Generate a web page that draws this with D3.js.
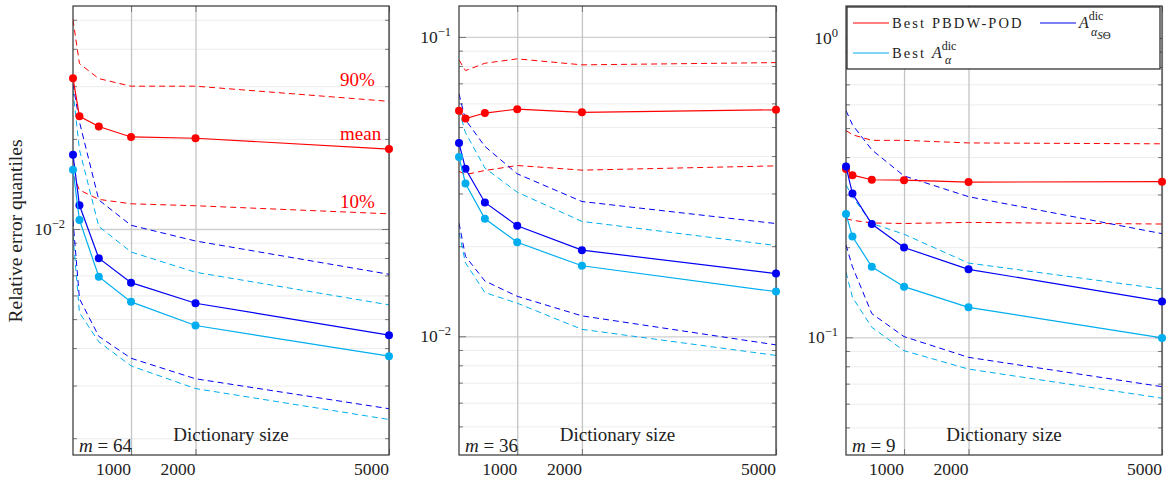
<!DOCTYPE html>
<meta charset="utf-8">
<style>
body { margin: 0; background: #fff; }
text { font-family: "Liberation Serif", "DejaVu Serif", serif; fill: #222; }
.grid-minor line { stroke: #ececec; stroke-width: 1; }
.grid-major line { stroke: #cfcfcf; stroke-width: 1.3; }
.grid-x line { stroke: #c4c4c4; stroke-width: 1.3; }
.ticks line { stroke: #777; stroke-width: 1; }
path.domain { display: none; }
.tick text { display: none; }
</style>
<body>
<div id="chart"></div>
<script src="https://d3js.org/d3.v7.min.js"></script>
<script>
// dictionary sizes on the x axis
var dictSize = [100, 200, 500, 1000, 2000, 5000];
var xTicks = [1000, 2000, 5000];
var mValues = [64, 36, 9];

// m = 64
var pbdw64Mean = [0.0319, 0.0238, 0.0220, 0.0203, 0.0201, 0.0185];
var pbdw64Q90  = [0.0500, 0.0357, 0.0318, 0.0300, 0.0300, 0.0267];
var pbdw64Q10  = [0.0152, 0.0135, 0.01256, 0.01214, 0.01196, 0.01124];
var sdic64Mean = [0.0177, 0.0120, 0.00799, 0.00662, 0.00565, 0.00442];
var sdic64Q90  = [0.0305, 0.0228, 0.0125, 0.01029, 0.00912, 0.00706];
var sdic64Q10  = [0.0107, 0.00585, 0.00438, 0.00370, 0.00316, 0.00251];
var dic64Mean  = [0.01577, 0.01072, 0.00693, 0.00571, 0.00476, 0.00376];
var dic64Q90   = [0.0290, 0.0184, 0.0102, 0.00838, 0.00717, 0.00558];
var dic64Q10   = [0.00955, 0.00525, 0.00420, 0.00349, 0.00293, 0.00231];

// m = 36
var pbdw36Mean = [0.0567, 0.0534, 0.0557, 0.0574, 0.0560, 0.0571];
var pbdw36Q90  = [0.0838, 0.0772, 0.0817, 0.0845, 0.0807, 0.0821];
var pbdw36Q10  = [0.0356, 0.0347, 0.0358, 0.0372, 0.0359, 0.0371];
var sdic36Mean = [0.0442, 0.0363, 0.0280, 0.0234, 0.0194, 0.0162];
var sdic36Q90  = [0.0646, 0.0529, 0.0431, 0.0349, 0.0282, 0.0238];
var sdic36Q10  = [0.0239, 0.0185, 0.0153, 0.0136, 0.0117, 0.00936];
var dic36Mean  = [0.0397, 0.0324, 0.0247, 0.0206, 0.0172, 0.0141];
var dic36Q90   = [0.0571, 0.0479, 0.0365, 0.0303, 0.0242, 0.0201];
var dic36Q10   = [0.0222, 0.0176, 0.0140, 0.0129, 0.01055, 0.00863];

// m = 9
var pbdw9Mean = [0.365, 0.348, 0.336, 0.335, 0.330, 0.331];
var pbdw9Q90  = [0.491, 0.475, 0.455, 0.455, 0.446, 0.443];
var pbdw9Q10  = [0.249, 0.246, 0.241, 0.240, 0.242, 0.239];
var sdic9Mean = [0.372, 0.302, 0.239, 0.1995, 0.1687, 0.1318];
var sdic9Q90  = [0.572, 0.513, 0.423, 0.346, 0.295, 0.222];
var sdic9Q10  = [0.2035, 0.172, 0.120, 0.1005, 0.0857, 0.0684];
var dic9Mean  = [0.258, 0.217, 0.172, 0.1476, 0.1259, 0.0995];
var dic9Q90   = [0.323, 0.295, 0.240, 0.221, 0.177, 0.145];
var dic9Q10   = [0.165, 0.136, 0.108, 0.0902, 0.0783, 0.0626];

var red = "#ff0000", blue = "#0000f5", cyan = "#00aeef";

var W = 1169, H = 479, plotTop = 6, plotBottom = 455;

var panels = [
  {m: mValues[0], left: 73, right: 389, yMin: 0.001758, yMax: 0.05559, decades: [-2],
   series: [[pbdw64Mean, pbdw64Q10, pbdw64Q90, red], [sdic64Mean, sdic64Q10, sdic64Q90, blue], [dic64Mean, dic64Q10, dic64Q90, cyan]]},
  {m: mValues[1], left: 459, right: 776, yMin: 0.004012, yMax: 0.1269, decades: [-1, -2],
   series: [[pbdw36Mean, pbdw36Q10, pbdw36Q90, red], [sdic36Mean, sdic36Q10, sdic36Q90, blue], [dic36Mean, dic36Q10, dic36Q90, cyan]]},
  {m: mValues[2], left: 846, right: 1162, yMin: 0.04043, yMax: 1.279, decades: [0, -1],
   series: [[pbdw9Mean, pbdw9Q10, pbdw9Q90, red], [sdic9Mean, sdic9Q10, sdic9Q90, blue], [dic9Mean, dic9Q10, dic9Q90, cyan]]}
];

var svg = d3.select("#chart").append("svg")
    .attr("width", W)
    .attr("height", H);

function drawPanel(p, i) {
  var x = d3.scaleLinear().domain([100, 5000]).range([p.left, p.right]);
  var y = d3.scaleLog().domain([p.yMin, p.yMax]).range([plotBottom, plotTop]);
  var w = p.right - p.left, h = plotBottom - plotTop;

  var minors = [], majors = [];
  for (var k = Math.floor(Math.log10(p.yMin)); k <= Math.ceil(Math.log10(p.yMax)); k++) {
    for (var j = 1; j <= 9; j++) {
      var v = j * Math.pow(10, k);
      if (v < p.yMin || v > p.yMax) continue;
      if (j == 1) majors.push(v); else minors.push(v);
    }
  }

  var g = svg.append("g");

  // grid lines
  g.append("g").attr("class", "grid-minor")
    .attr("transform", "translate(" + p.left + ",0)")
    .call(d3.axisLeft(y).tickValues(minors).tickSize(-w).tickFormat(""));
  g.append("g").attr("class", "grid-major")
    .attr("transform", "translate(" + p.left + ",0)")
    .call(d3.axisLeft(y).tickValues(majors).tickSize(-w).tickFormat(""));
  g.append("g").attr("class", "grid-x")
    .attr("transform", "translate(0," + plotBottom + ")")
    .call(d3.axisBottom(x).tickValues(xTicks).tickSize(-h).tickFormat(""));

  // small inward ticks on the frame
  g.append("g").attr("class", "ticks")
    .attr("transform", "translate(" + p.left + ",0)")
    .call(d3.axisLeft(y).tickValues(minors).tickSize(-4).tickFormat(""));
  g.append("g").attr("class", "ticks")
    .attr("transform", "translate(" + p.right + ",0)")
    .call(d3.axisRight(y).tickValues(minors).tickSize(-4).tickFormat(""));
  g.append("g").attr("class", "ticks")
    .attr("transform", "translate(" + p.left + ",0)")
    .call(d3.axisLeft(y).tickValues(majors).tickSize(-7).tickFormat(""));
  g.append("g").attr("class", "ticks")
    .attr("transform", "translate(" + p.right + ",0)")
    .call(d3.axisRight(y).tickValues(majors).tickSize(-7).tickFormat(""));
  g.append("g").attr("class", "ticks")
    .attr("transform", "translate(0," + plotBottom + ")")
    .call(d3.axisBottom(x).tickValues(xTicks).tickSize(-6).tickFormat(""));
  g.append("g").attr("class", "ticks")
    .attr("transform", "translate(0," + plotTop + ")")
    .call(d3.axisTop(x).tickValues(xTicks).tickSize(-6).tickFormat(""));

  // y tick labels 10^k
  p.decades.forEach(function(k) {
    var t = g.append("text")
      .attr("x", p.left - 8)
      .attr("y", y(Math.pow(10, k)) + 6)
      .attr("text-anchor", "end")
      .style("font-size", "17.5px");
    t.append("tspan").text("10");
    t.append("tspan").attr("dy", -7).style("font-size", "12.5px").text(k == 0 ? "0" : "\u2212" + (-k));
  });

  // x tick labels, right aligned on the tick
  xTicks.forEach(function(v) {
    g.append("text")
      .attr("x", x(v))
      .attr("y", 475)
      .attr("text-anchor", "end")
      .style("font-size", "17.5px")
      .text(v);
  });

  var clipId = "clip" + i;
  svg.append("clipPath").attr("id", clipId).append("rect")
    .attr("x", p.left).attr("y", plotTop).attr("width", w).attr("height", h);

  var line = d3.line()
    .x(function(d, j) { return x(dictSize[j]); })
    .y(function(d) { return y(d); });

  var lines = g.append("g").attr("clip-path", "url(#" + clipId + ")");
  p.series.forEach(function(s) {
    [s[1], s[2]].forEach(function(q) {
      lines.append("path")
        .attr("d", line(q))
        .attr("fill", "none")
        .attr("stroke", s[3])
        .attr("stroke-width", 1)
        .attr("stroke-dasharray", "6,4");
    });
  });

  // frame
  g.append("rect")
    .attr("x", p.left).attr("y", plotTop).attr("width", w).attr("height", h)
    .attr("fill", "none")
    .attr("stroke", "#333")
    .attr("stroke-width", 1.2);

  p.series.forEach(function(s) {
    g.append("path")
      .attr("d", line(s[0]))
      .attr("fill", "none")
      .attr("stroke", s[3])
      .attr("stroke-width", 1.2);
    g.selectAll(null)
      .data(s[0])
      .enter().append("circle")
      .attr("cx", function(d, j) { return x(dictSize[j]); })
      .attr("cy", function(d) { return y(d); })
      .attr("r", 4)
      .attr("fill", s[3]);
  });

  g.append("text")
    .attr("x", (p.left + p.right) / 2)
    .attr("y", 441)
    .attr("text-anchor", "middle")
    .style("font-size", "19px")
    .text("Dictionary size");

  var mt = g.append("text")
    .attr("x", p.left + 6)
    .attr("y", 452)
    .style("font-size", "19px");
  mt.append("tspan").style("font-style", "italic").text("m");
  mt.append("tspan").text(" = " + p.m);
}

panels.forEach(drawPanel);

// quantile annotations on the first panel
var annot = [["90%", 86], ["mean", 140], ["10%", 208]];
annot.forEach(function(a) {
  svg.append("text")
    .attr("x", 340)
    .attr("y", a[1])
    .style("font-size", "19px")
    .style("fill", red)
    .text(a[0]);
});

// y axis title
svg.append("text")
  .attr("transform", "translate(22,231) rotate(-90)")
  .attr("text-anchor", "middle")
  .style("font-size", "19.5px")
  .text("Relative error quantiles");

// legend in the third panel
var leg = svg.append("g");
leg.append("rect")
  .attr("x", 847).attr("y", 7).attr("width", 313).attr("height", 62)
  .attr("fill", "#fff").attr("stroke", "#222").attr("stroke-width", 1.2);

var legItems = [
  {color: red, x: 853, y: 23},
  {color: blue, x: 1040, y: 23},
  {color: cyan, x: 853, y: 53}
];
legItems.forEach(function(d) {
  leg.append("line")
    .attr("x1", d.x).attr("x2", d.x + 36)
    .attr("y1", d.y).attr("y2", d.y)
    .attr("stroke", d.color).attr("stroke-width", 1.2);
});

leg.append("text")
  .attr("x", 892).attr("y", 28)
  .style("font-size", "14.5px")
  .style("letter-spacing", "2.1px")
  .text("Best PBDW-POD");

var t2 = leg.append("text").attr("x", 1079).attr("y", 28).style("font-size", "16px");
t2.append("tspan").style("font-style", "italic").text("A");
t2.append("tspan").attr("dy", -8).style("font-size", "12px").text("dic");
var t2s = leg.append("text").attr("x", 1091).attr("y", 36).style("font-size", "12px");
t2s.append("tspan").style("font-style", "italic").text("\u03b1");
t2s.append("tspan").attr("dy", 3).style("font-size", "11px").style("font-style", "italic").text("S");
t2s.append("tspan").style("font-size", "11px").text("\u0398");

var t3 = leg.append("text").attr("x", 892).attr("y", 58).style("font-size", "14.5px");
t3.append("tspan").style("letter-spacing", "2.1px").text("Best ");
t3.append("tspan").style("font-style", "italic").style("font-size", "16px").text("A");
t3.append("tspan").attr("dy", -8).style("font-size", "12px").text("dic");
leg.append("text").attr("x", 945).attr("y", 64)
  .style("font-size", "12px").style("font-style", "italic").text("\u03b1");
</script>
</body>
